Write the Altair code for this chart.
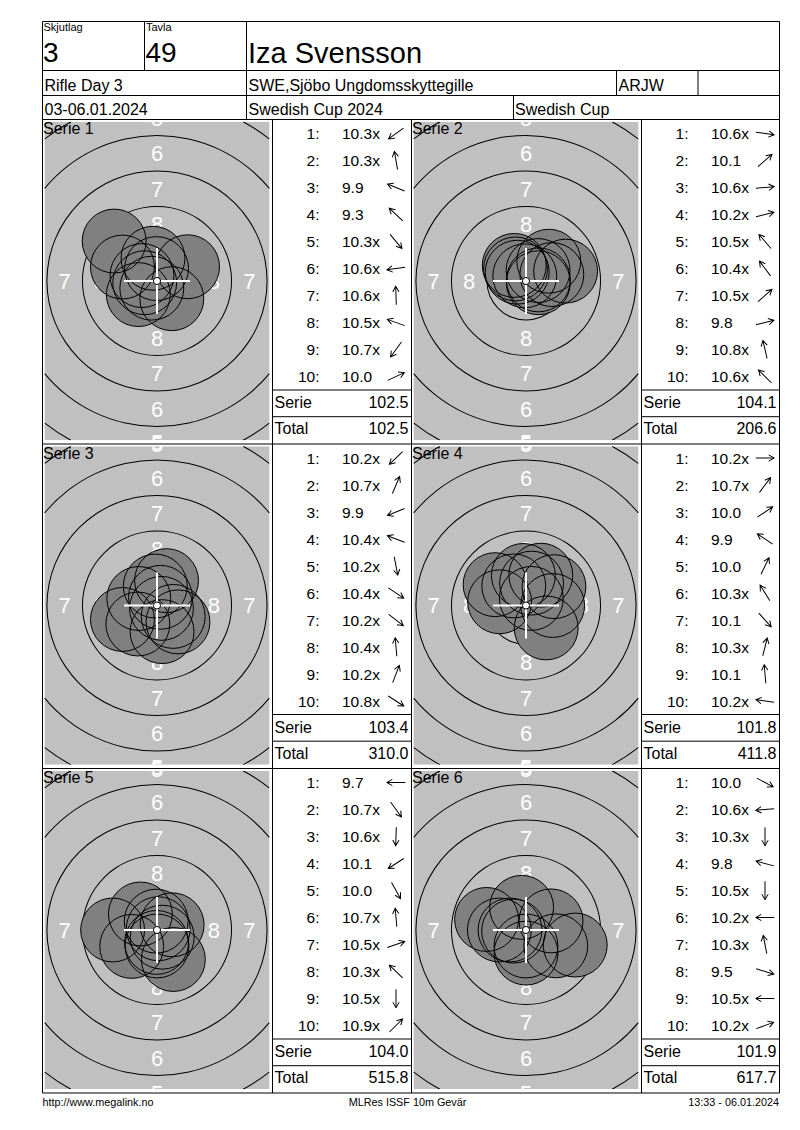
import math
import numpy as np
import pandas as pd
import altair as alt

# ---------------- values read from the scorecard ----------------
series_names = ["Serie 1", "Serie 2", "Serie 3", "Serie 4", "Serie 5", "Serie 6"]
shot_numbers = [1, 2, 3, 4, 5, 6, 7, 8, 9, 10]

scores_s1 = [10.3, 10.3, 9.9, 9.3, 10.3, 10.6, 10.6, 10.5, 10.7, 10.0]
scores_s2 = [10.6, 10.1, 10.6, 10.2, 10.5, 10.4, 10.5, 9.8, 10.8, 10.6]
scores_s3 = [10.2, 10.7, 9.9, 10.4, 10.2, 10.4, 10.2, 10.4, 10.2, 10.8]
scores_s4 = [10.2, 10.7, 10.0, 9.9, 10.0, 10.3, 10.1, 10.3, 10.1, 10.2]
scores_s5 = [9.7, 10.7, 10.6, 10.1, 10.0, 10.7, 10.5, 10.3, 10.5, 10.9]
scores_s6 = [10.0, 10.6, 10.3, 9.8, 10.5, 10.2, 10.3, 9.5, 10.5, 10.2]

# direction of each shot from the centre (arrow direction), degrees clockwise from "east"
dirs_s1 = [144, 260, 202, 223, 50, 172, 268, 200, 126, 335]
dirs_s2 = [8, 319, 355, 346, 229, 233, 319, 346, 257, 225]
dirs_s3 = [136, 293, 158, 201, 79, 34, 38, 265, 291, 33]
dirs_s4 = [0, 307, 326, 214, 296, 238, 48, 284, 265, 188]
dirs_s5 = [180, 54, 92, 147, 61, 265, 341, 224, 90, 315]
dirs_s6 = [28, 175, 90, 195, 90, 180, 259, 17, 180, 340]

all_scores = [scores_s1, scores_s2, scores_s3, scores_s4, scores_s5, scores_s6]
all_dirs = [dirs_s1, dirs_s2, dirs_s3, dirs_s4, dirs_s5, dirs_s6]

header_small = ["Skjutlag", "Tavla"]
header_big = ["3", "49"]
shooter_name = "Iza Svensson"
row2_texts = ["Rifle Day 3", "SWE,Sjöbo Ungdomsskyttegille", "ARJW"]
row3_texts = ["03-06.01.2024", "Swedish Cup 2024", "Swedish Cup"]
footer_texts = ["http://www.megalink.no", "MLRes ISSF 10m Gevär", "13:33 - 06.01.2024"]
table_labels = ["Serie", "Total"]

# ISSF 10 m air rifle target
ring_values = [4, 5, 6, 7, 8, 9]
ring_diameters_mm = [30.5, 25.5, 20.5, 15.5, 10.5, 5.5]
label_rings = [5, 6, 7, 8]
ten_dot_mm = 0.5
pellet_mm = 4.5
ring_width_mm = 2.5

# ---------------- page layout (pixels) ----------------
FONT = "Liberation Sans"
PXMM = 14.2
X0, X1 = 8, 792
Y0, Y1 = 8, 1122
LEFT, RIGHT = 42.5, 779.5
HDR = [21.5, 70.5, 95.5, 119.5]
ROW_H = 324.5
ROW_TOPS = [HDR[3] + ROW_H * r for r in range(3)]
BOTTOM = ROW_TOPS[-1] + ROW_H
TARGET_L = [42.5, 411.5]
TABLE_L = [272.5, 641.5]
TABLE_R = [411.5, 779.5]
HALF_W, HALF_H = 112.3, 159.3
GREY = "#c0c0c0"
ROW_FS = 15.5


def panel(k):
    r, c = divmod(k, 2)
    T = ROW_TOPS[r]
    cx = TARGET_L[c] + 114.5
    cy = T + 161.5
    return T, c, cx, cy


def visible_arcs(R, W, H, n=3600):
    th = (np.arange(n) + 0.5) * 2 * np.pi / n
    vis = (np.abs(R * np.sin(th)) <= W) & (np.abs(R * np.cos(th)) <= H)
    if vis.all():
        return [(0.0, 2 * np.pi)]
    if not vis.any():
        return []
    start = int(np.argmin(vis))
    v = vis[(np.arange(n) + start) % n]
    segs = []
    i = 0
    step = 2 * np.pi / n
    while i < n:
        if v[i]:
            j = i
            while j < n and v[j]:
                j += 1
            segs.append(((start + i) * step, (start + j) * step))
            i = j
        else:
            i += 1
    return segs


targets, arcs, rlabels, shots, cross, dots = [], [], [], [], [], []
left_txt, right_txt, center_txt, arrows = [], [], [], []
running = 0.0
for k in range(6):
    T, c, cx, cy = panel(k)
    targets.append(dict(x0=cx - HALF_W, x1=cx + HALF_W, y0=cy - HALF_H, y1=cy + HALF_H))
    for rv, dm in zip(ring_values, ring_diameters_mm):
        R = dm / 2 * PXMM
        for a0, a1 in visible_arcs(R, HALF_W, HALF_H):
            arcs.append(dict(cx=cx, cy=cy, t0=a0, t1=a1, ro=R + 0.5, ri=R - 0.5))
    for rv, dm in zip(ring_values, ring_diameters_mm):
        if rv not in label_rings:
            continue
        dist = (dm / 2 - ring_width_mm / 2) * PXMM
        if dist <= HALF_H + 6:
            for sgn in (-1, 1):
                rlabels.append(dict(x=cx, y=cy + sgn * dist + 7.9, label=str(rv)))
        if dist <= HALF_W + 4:
            for sgn in (-1, 1):
                rlabels.append(dict(x=cx + sgn * dist, y=cy + 7.9, label=str(rv)))
    for n, s, d in zip(shot_numbers, all_scores[k], all_dirs[k]):
        dist = (10.95 - s) * ring_width_mm * PXMM
        shots.append(dict(x=cx + dist * math.cos(math.radians(d)),
                          y=cy + dist * math.sin(math.radians(d))))
    arm = 33
    cross.append(dict(x0=cx - arm, x1=cx + arm, y0=cy, y1=cy))
    cross.append(dict(x0=cx, x1=cx, y0=cy - arm, y1=cy + arm))
    dots.append(dict(x=cx, y=cy))

    # score table
    TL, TR = TABLE_L[c], TABLE_R[c]
    for n, s, d in zip(shot_numbers, all_scores[k], all_dirs[k]):
        base = T + 19.5 + 27 * (n - 1)
        right_txt.append(dict(x=TL + 47, y=base, text=f"{n}:", fs=ROW_FS))
        txt = f"{s:.1f}" + ("x" if s >= 10.2 else "")
        if s < 10:
            txt = "\u00a0" + txt
        left_txt.append(dict(x=TL + 69.5, y=base, text=txt, fs=ROW_FS))
        arrows.append(dict(x=TL + 123.5, y=base - 5.5, dir=d))
    serie_sum = round(sum(all_scores[k]), 1)
    running = round(running + serie_sum, 1)
    left_txt.append(dict(x=TL + 2, y=T + 288.8, text=table_labels[0], fs=16))
    left_txt.append(dict(x=TL + 2, y=T + 314.8, text=table_labels[1], fs=16))
    right_txt.append(dict(x=TR - 3, y=T + 288.8, text=f"{serie_sum:.1f}", fs=16))
    right_txt.append(dict(x=TR - 3, y=T + 314.8, text=f"{running:.1f}", fs=16))
    left_txt.append(dict(x=TARGET_L[c] + 0.5, y=T + 14.5, text=series_names[k], fs=16))

# header texts
left_txt += [
    dict(x=43.5, y=30.5, text=header_small[0], fs=11),
    dict(x=146, y=30.5, text=header_small[1], fs=11),
    dict(x=43, y=61.7, text=header_big[0], fs=28),
    dict(x=145.5, y=61.7, text=header_big[1], fs=28),
    dict(x=248, y=62.5, text=shooter_name, fs=29),
    dict(x=44.5, y=91, text=row2_texts[0], fs=16),
    dict(x=248.5, y=91, text=row2_texts[1], fs=16),
    dict(x=618.5, y=91, text=row2_texts[2], fs=16),
    dict(x=44.5, y=115, text=row3_texts[0], fs=16),
    dict(x=248.5, y=115, text=row3_texts[1], fs=16),
    dict(x=515, y=115, text=row3_texts[2], fs=16),
    dict(x=42.5, y=1106, text=footer_texts[0], fs=10.8),
]
center_txt.append(dict(x=407.5, y=1106, text=footer_texts[1], fs=10.8))
right_txt.append(dict(x=779, y=1106, text=footer_texts[2], fs=10.8))

# white masks outside the target areas (clip ring labels)
masks = []
edges = [Y0]
for r in range(3):
    T = ROW_TOPS[r]
    cy = T + 161.5
    edges += [cy - HALF_H, cy + HALF_H]
edges.append(Y1)
for i in range(0, len(edges), 2):
    masks.append(dict(x0=X0, x1=X1, y0=edges[i], y1=edges[i + 1]))

# grid lines
lines = []
def hline(y, xa=LEFT, xb=RIGHT):
    lines.append(dict(x0=xa, x1=xb, y0=y, y1=y))
def vline(x, ya, yb):
    lines.append(dict(x0=x, x1=x, y0=ya, y1=yb))

for y in HDR + ROW_TOPS[1:] + [BOTTOM]:
    hline(y)
vline(LEFT, HDR[0], BOTTOM)
vline(RIGHT, HDR[0], BOTTOM)
for x in (144.5, 246.5):
    vline(x, HDR[0], HDR[1])
for x in (246.5, 616.5, 698):
    vline(x, HDR[1], HDR[2])
for x in (246.5, 513.5):
    vline(x, HDR[2], HDR[3])
for x in (TABLE_L[0], TABLE_R[0], TABLE_L[1]):
    vline(x, HDR[3], BOTTOM)
for T in ROW_TOPS:
    for c in range(2):
        hline(T + 270.5, TABLE_L[c], TABLE_R[c])
        hline(T + 297.2, TABLE_L[c], TABLE_R[c])

# ---------------- chart ----------------
xs = alt.Scale(domain=[X0, X1], nice=False, zero=False)
ys = alt.Scale(domain=[Y0, Y1], nice=False, zero=False, reverse=True)


def X(f):
    return alt.X(f"{f}:Q", scale=xs, axis=None)


def Y(f):
    return alt.Y(f"{f}:Q", scale=ys, axis=None)


SHOT_SIZE = (pellet_mm * PXMM) ** 2
DOT_SIZE = (ten_dot_mm * PXMM) ** 2
ARROW = "M-1,0L1,0M0.4,-0.34L1,0L0.4,0.34"

grey_l = alt.Chart(pd.DataFrame(targets)).mark_rect(color=GREY).encode(
    x=X("x0"), x2="x1", y=Y("y0"), y2="y1")
arcs_l = alt.Chart(pd.DataFrame(arcs)).mark_arc(color="black").encode(
    x=X("cx"), y=Y("cy"),
    theta=alt.Theta("t0:Q", scale=None, stack=None), theta2=alt.Theta2("t1"),
    radius=alt.Radius("ro:Q", scale=None), radius2=alt.Radius2("ri"))
rlab_l = alt.Chart(pd.DataFrame(rlabels)).mark_text(
    color="white", fontSize=22, font=FONT, align="center", baseline="alphabetic").encode(
    x=X("x"), y=Y("y"), text="label:N")
shotfill_l = alt.Chart(pd.DataFrame(shots)).mark_circle(
    color="#808080", opacity=1, size=SHOT_SIZE).encode(x=X("x"), y=Y("y"))
shotedge_l = alt.Chart(pd.DataFrame(shots)).mark_point(
    shape="circle", filled=False, color="black", strokeWidth=1, opacity=1,
    size=SHOT_SIZE).encode(x=X("x"), y=Y("y"))
cross_l = alt.Chart(pd.DataFrame(cross)).mark_rule(color="white", strokeWidth=2).encode(
    x=X("x0"), x2="x1", y=Y("y0"), y2="y1")
dot_l = alt.Chart(pd.DataFrame(dots)).mark_circle(
    fill="white", stroke="black", strokeWidth=1, opacity=1, size=DOT_SIZE).encode(
    x=X("x"), y=Y("y"))
mask_l = alt.Chart(pd.DataFrame(masks)).mark_rect(color="white").encode(
    x=X("x0"), x2="x1", y=Y("y0"), y2="y1")
lines_l = alt.Chart(pd.DataFrame(lines)).mark_rule(color="black", strokeWidth=1).encode(
    x=X("x0"), x2="x1", y=Y("y0"), y2="y1")


def text_layer(rows, align):
    return alt.Chart(pd.DataFrame(rows)).mark_text(
        align=align, baseline="alphabetic", font=FONT, color="black").encode(
        x=X("x"), y=Y("y"), text="text:N", size=alt.Size("fs:Q", scale=None))


arrow_l = alt.Chart(pd.DataFrame(arrows)).mark_point(
    shape=ARROW, filled=False, color="black", strokeWidth=1, opacity=1, size=340).encode(
    x=X("x"), y=Y("y"), angle=alt.Angle("dir:Q", scale=None))

chart = alt.layer(
    grey_l, arcs_l, rlab_l, shotfill_l, shotedge_l, cross_l, dot_l, mask_l, lines_l,
    text_layer(left_txt, "left"), text_layer(right_txt, "right"),
    text_layer(center_txt, "center"), arrow_l,
).properties(
    width=X1 - X0, height=Y1 - Y0, padding=0,
    autosize=alt.AutoSizeParams(type="none"),
).configure_view(stroke=None)

chart.save("out.html", embed_options={"renderer": "svg", "actions": False})
